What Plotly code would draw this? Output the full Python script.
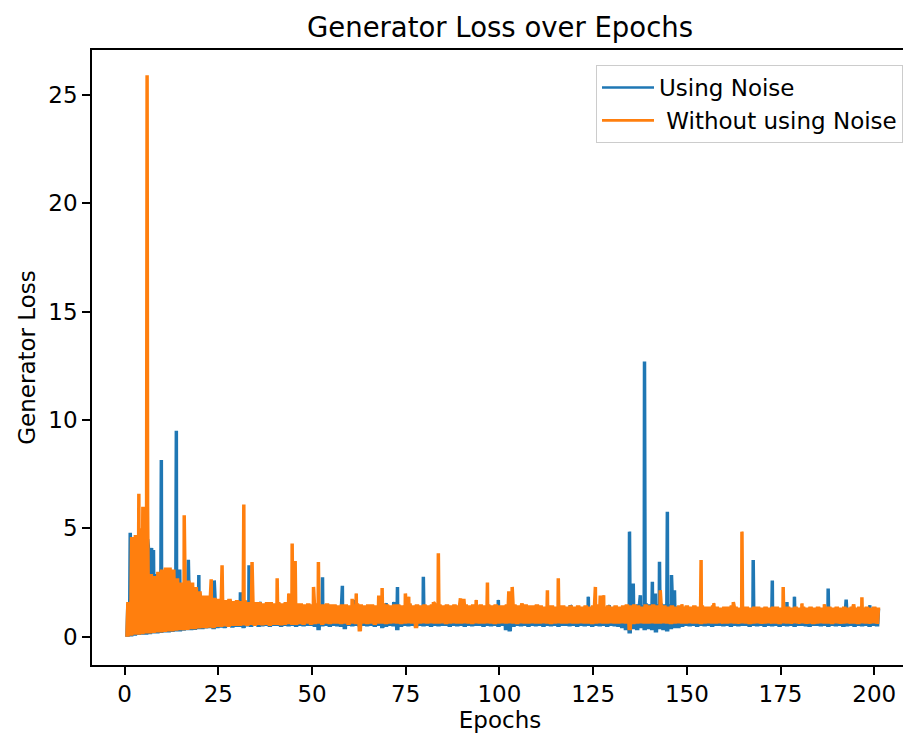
import plotly.graph_objects as go

# ---------------- data ----------------
# per-epoch sample positions (one slot per epoch)
epochs = [i + 0.5 for i in range(201)]

# "Without using Noise" (orange): upper / lower edge of the dense band per epoch
without_high = [
    1.6, 4.6, 4.7, 5.0, 6.0, 6.0, 2.9, 2.8, 3.0, 3.1,
    3.2, 3.2, 3.1, 2.7, 2.5, 2.4, 2.6, 2.5, 2.3, 2.1,
    1.9, 1.9, 1.8, 1.8, 1.75, 1.8, 1.7, 1.75, 1.65, 1.7,
    1.65, 1.7, 1.6, 1.65, 1.6, 1.6, 1.55, 1.6, 1.6, 1.55,
    1.6, 1.55, 1.6, 1.55, 1.6, 1.55, 1.55, 1.5, 1.55, 1.5,
    1.55, 1.5, 1.5, 1.55, 1.5, 1.5, 1.45, 1.5, 1.5, 1.45,
    1.5, 1.55, 1.5, 1.45, 1.5, 1.5, 1.45, 1.5, 1.55, 1.5,
    1.45, 1.5, 1.5, 1.45, 1.5, 1.55, 1.45, 1.5, 1.45, 1.5,
    1.45, 1.5, 1.55, 1.5, 1.45, 1.5, 1.45, 1.5, 1.45, 1.55,
    1.5, 1.45, 1.5, 1.45, 1.5, 1.45, 1.5, 1.45, 1.5, 1.45,
    1.45, 1.5, 1.45, 1.5, 1.45, 1.45, 1.5, 1.45, 1.45, 1.5,
    1.45, 1.4, 1.45, 1.45, 1.4, 1.45, 1.45, 1.4, 1.45, 1.4,
    1.45, 1.4, 1.45, 1.4, 1.45, 1.5, 1.45, 1.4, 1.45, 1.4,
    1.45, 1.4, 1.45, 1.5, 1.45, 1.5, 1.45, 1.4, 1.5, 1.45,
    1.5, 1.45, 1.5, 1.45, 1.4, 1.45, 1.4, 1.45, 1.4, 1.45,
    1.4, 1.45, 1.4, 1.45, 1.4, 1.4, 1.45, 1.4, 1.35, 1.4,
    1.4, 1.45, 1.4, 1.35, 1.4, 1.4, 1.35, 1.4, 1.4, 1.35,
    1.4, 1.35, 1.4, 1.4, 1.35, 1.4, 1.4, 1.35, 1.4, 1.35,
    1.4, 1.35, 1.4, 1.35, 1.4, 1.35, 1.4, 1.4, 1.35, 1.4,
    1.35, 1.4, 1.35, 1.4, 1.35, 1.4, 1.35, 1.4, 1.35, 1.4,
    1.35,
]
without_low = [
    0.0, 0.05, 0.1, 0.1, 0.12, 0.15, 0.15, 0.18, 0.2, 0.2,
    0.22, 0.25, 0.25, 0.28, 0.3, 0.3, 0.32, 0.35, 0.35, 0.38,
    0.4, 0.4, 0.42, 0.4, 0.45, 0.45, 0.48, 0.45, 0.5, 0.5,
    0.5, 0.52, 0.5, 0.55, 0.5, 0.55, 0.52, 0.55, 0.5, 0.55,
    0.55, 0.52, 0.55, 0.58, 0.55, 0.55, 0.58, 0.55, 0.6, 0.55,
    0.58, 0.6, 0.55, 0.6, 0.58, 0.6, 0.6, 0.58, 0.6, 0.55,
    0.6, 0.58, 0.25, 0.6, 0.58, 0.6, 0.55, 0.6, 0.6, 0.58,
    0.6, 0.62, 0.6, 0.58, 0.6, 0.62, 0.6, 0.4, 0.6, 0.62,
    0.6, 0.62, 0.6, 0.6, 0.62, 0.58, 0.6, 0.62, 0.6, 0.6,
    0.62, 0.6, 0.58, 0.62, 0.6, 0.6, 0.62, 0.6, 0.58, 0.6,
    0.62, 0.6, 0.62, 0.6, 0.58, 0.62, 0.6, 0.6, 0.62, 0.6,
    0.6, 0.62, 0.6, 0.58, 0.6, 0.62, 0.6, 0.6, 0.62, 0.6,
    0.6, 0.62, 0.6, 0.6, 0.58, 0.6, 0.62, 0.6, 0.6, 0.62,
    0.6, 0.6, 0.62, 0.6, 0.3, 0.58, 0.6, 0.62, 0.6, 0.6,
    0.62, 0.6, 0.6, 0.62, 0.6, 0.58, 0.6, 0.62, 0.6, 0.6,
    0.62, 0.6, 0.6, 0.58, 0.6, 0.62, 0.6, 0.6, 0.62, 0.6,
    0.6, 0.62, 0.6, 0.6, 0.62, 0.6, 0.58, 0.6, 0.62, 0.6,
    0.6, 0.62, 0.6, 0.6, 0.58, 0.62, 0.6, 0.6, 0.62, 0.6,
    0.62, 0.6, 0.6, 0.58, 0.6, 0.62, 0.6, 0.6, 0.58, 0.62,
    0.6, 0.6, 0.62, 0.6, 0.6, 0.58, 0.62, 0.6, 0.6, 0.62,
    0.6,
]
# isolated spikes of the orange series
without_spike_epoch = [3.8, 6.0, 15.9, 23.1, 26.0, 31.8, 34.0, 40.7, 43.8, 44.7,
                       45.5, 50.4, 51.7, 60.7, 61.8, 67.8, 68.7, 74.9, 75.8, 82.4,
                       83.7, 89.6, 90.5, 93.8, 96.8, 102.5, 103.4, 106.0, 112.8, 115.7,
                       125.6, 126.9, 127.8, 142.9, 148.7, 153.8, 157.2, 162.4, 164.7, 175.7,
                       180.7, 186.7, 194.5, 196.7]
without_spike_value = [6.6, 25.9, 5.6, 2.65, 3.3, 6.1, 3.45, 2.7, 2.0, 4.3,
                       3.5, 2.3, 3.45, 1.75, 2.0, 1.9, 2.25, 2.0, 1.85, 1.6,
                       3.85, 1.78, 1.75, 1.7, 2.5, 2.1, 2.3, 1.55, 2.15, 2.7,
                       2.3, 1.9, 1.92, 2.15, 1.5, 3.54, 1.55, 1.6, 4.85, 2.3,
                       1.54, 1.5, 1.5, 1.82]

# "Using Noise" (blue)
noise_high = [
    1.5, 4.0, 4.3, 4.5, 4.8, 4.5, 3.0, 2.9, 2.9, 3.0,
    3.0, 2.9, 2.8, 2.6, 2.4, 2.3, 2.4, 2.3, 2.2, 2.0,
    1.85, 1.8, 1.75, 1.75, 1.7, 1.7, 1.65, 1.7, 1.6, 1.65,
    1.6, 1.65, 1.6, 1.6, 1.55, 1.6, 1.5, 1.55, 1.55, 1.5,
    1.55, 1.5, 1.55, 1.5, 1.55, 1.5, 1.5, 1.45, 1.5, 1.45,
    1.5, 1.45, 1.45, 1.5, 1.45, 1.45, 1.4, 1.45, 1.45, 1.4,
    1.45, 1.5, 1.45, 1.4, 1.45, 1.45, 1.4, 1.45, 1.5, 1.45,
    1.4, 1.45, 1.45, 1.4, 1.45, 1.5, 1.4, 1.45, 1.4, 1.45,
    1.4, 1.45, 1.5, 1.45, 1.4, 1.45, 1.4, 1.45, 1.4, 1.5,
    1.45, 1.4, 1.45, 1.4, 1.45, 1.4, 1.45, 1.4, 1.45, 1.4,
    1.4, 1.45, 1.4, 1.45, 1.4, 1.4, 1.45, 1.4, 1.4, 1.45,
    1.4, 1.35, 1.4, 1.4, 1.35, 1.4, 1.4, 1.35, 1.4, 1.35,
    1.4, 1.35, 1.4, 1.35, 1.4, 1.45, 1.4, 1.35, 1.4, 1.35,
    1.4, 1.35, 1.4, 1.45, 1.4, 1.45, 1.5, 1.45, 1.55, 1.5,
    1.55, 1.5, 1.55, 1.5, 1.5, 1.45, 1.4, 1.4, 1.35, 1.4,
    1.35, 1.4, 1.35, 1.4, 1.35, 1.35, 1.4, 1.35, 1.3, 1.35,
    1.35, 1.4, 1.35, 1.3, 1.35, 1.35, 1.3, 1.35, 1.35, 1.3,
    1.35, 1.3, 1.35, 1.35, 1.3, 1.35, 1.35, 1.3, 1.35, 1.3,
    1.35, 1.3, 1.35, 1.3, 1.35, 1.3, 1.35, 1.35, 1.3, 1.35,
    1.3, 1.35, 1.3, 1.35, 1.3, 1.35, 1.3, 1.35, 1.3, 1.35,
    1.3,
]
noise_low = [
    0.0, 0.02, 0.05, 0.08, 0.1, 0.1, 0.12, 0.15, 0.15, 0.18,
    0.2, 0.2, 0.22, 0.25, 0.25, 0.28, 0.3, 0.3, 0.32, 0.35,
    0.35, 0.38, 0.4, 0.35, 0.4, 0.42, 0.4, 0.45, 0.42, 0.45,
    0.45, 0.4, 0.48, 0.45, 0.5, 0.45, 0.48, 0.5, 0.45, 0.5,
    0.5, 0.45, 0.5, 0.48, 0.5, 0.45, 0.5, 0.48, 0.5, 0.5,
    0.45, 0.3, 0.48, 0.5, 0.45, 0.5, 0.48, 0.45, 0.35, 0.5,
    0.48, 0.5, 0.45, 0.5, 0.48, 0.5, 0.45, 0.5, 0.4, 0.45,
    0.5, 0.48, 0.3, 0.45, 0.5, 0.48, 0.5, 0.45, 0.5, 0.48,
    0.5, 0.45, 0.5, 0.48, 0.5, 0.5, 0.45, 0.5, 0.48, 0.5,
    0.45, 0.5, 0.48, 0.5, 0.5, 0.45, 0.5, 0.48, 0.5, 0.45,
    0.5, 0.3, 0.25, 0.45, 0.5, 0.48, 0.5, 0.45, 0.5, 0.48,
    0.5, 0.45, 0.5, 0.48, 0.5, 0.45, 0.5, 0.5, 0.48, 0.5,
    0.45, 0.5, 0.48, 0.5, 0.45, 0.5, 0.48, 0.5, 0.45, 0.5,
    0.48, 0.45, 0.4, 0.3, 0.15, 0.35, 0.3, 0.4, 0.3, 0.35,
    0.3, 0.2, 0.35, 0.3, 0.25, 0.35, 0.4, 0.4, 0.45, 0.5,
    0.48, 0.5, 0.45, 0.5, 0.48, 0.5, 0.45, 0.5, 0.5, 0.48,
    0.5, 0.45, 0.5, 0.48, 0.5, 0.5, 0.45, 0.5, 0.48, 0.5,
    0.45, 0.5, 0.48, 0.5, 0.45, 0.5, 0.48, 0.5, 0.45, 0.5,
    0.5, 0.48, 0.45, 0.5, 0.5, 0.48, 0.5, 0.45, 0.5, 0.48,
    0.5, 0.45, 0.48, 0.5, 0.45, 0.5, 0.48, 0.5, 0.45, 0.5,
    0.48,
]
noise_spike_epoch = [1.5, 6.6, 7.2, 7.7, 9.8, 13.8, 14.7, 17.0, 19.8, 23.9,
                     27.7, 30.9, 33.2, 36.2, 52.8, 58.1, 61.0, 69.8, 71.8, 72.8,
                     79.7, 99.7, 118.9, 123.7, 129.3, 134.7, 135.7, 137.6, 138.7, 140.8,
                     141.6, 142.7, 144.8, 145.9, 146.7, 167.7, 172.8, 176.7, 178.7, 187.7,
                     192.5, 198.8]
noise_spike_value = [4.8, 4.1, 4.1, 4.0, 8.15, 9.5, 3.1, 3.55, 2.85, 2.6,
                     1.6, 2.05, 3.3, 1.55, 2.75, 2.35, 1.7, 1.55, 1.6, 2.3,
                     2.77, 1.7, 1.46, 1.85, 1.46, 4.85, 2.46, 1.92, 12.7, 2.54,
                     2.0, 3.46, 5.77, 2.85, 2.15, 3.54, 2.6, 1.6, 1.85, 2.23,
                     1.72, 1.45]

x_tick_values = [0, 25, 50, 75, 100, 125, 150, 175, 200]
y_tick_values = [0, 5, 10, 15, 20, 25]

COLOR_NOISE = "#1f77b4"
COLOR_WITHOUT = "#ff7f0e"


def dense_series(low, high, spike_x, spike_y):
    """Batch-level loss trace: alternates between the read band edges within
    every epoch and passes through the read spikes."""
    pts = []
    for e, lo, hi in zip(epochs, low, high):
        pts += [(e, lo), (e + 0.25, hi), (e + 0.5, lo), (e + 0.75, hi)]
    for sx, sy in zip(spike_x, spike_y):
        pts += [(sx - 0.12, sy), (sx + 0.12, sy)]
    pts.sort(key=lambda p: p[0])
    xs = [p[0] for p in pts]
    ys = [p[1] for p in pts]
    return xs, ys


nx, ny = dense_series(noise_low, noise_high, noise_spike_epoch, noise_spike_value)
wx, wy = dense_series(without_low, without_high, without_spike_epoch, without_spike_value)

FONT = "DejaVu Sans"
TXT = 23

# The page body adds an 8 px offset, so the figure is 8 px smaller in each
# direction and all margins are expressed in figure coordinates.
FIG_W, FIG_H = 903, 730

fig = go.Figure()
fig.add_trace(go.Scatter(x=nx, y=ny, mode="lines", name="Using Noise",
                         line=dict(color=COLOR_NOISE, width=2.6), legendgroup="a"))
fig.add_trace(go.Scatter(x=wx, y=wy, mode="lines", name=" Without using Noise",
                         line=dict(color=COLOR_WITHOUT, width=2.6), legendgroup="b"))

axis_common = dict(
    showline=True, mirror=True, linecolor="#000000", linewidth=1.6,
    ticks="outside", ticklen=8, tickwidth=1.6, tickcolor="#000000",
    showgrid=False, zeroline=False, automargin=False,
    tickfont=dict(family=FONT, size=TXT, color="#000000"),
)

fig.update_layout(
    width=FIG_W, height=FIG_H,
    margin=dict(l=84, r=3, t=42, b=73),
    plot_bgcolor="white", paper_bgcolor="white",
    title=dict(text="Generator Loss over Epochs", x=0.5, xref="paper", xanchor="center",
               y=1 - 19 / FIG_H, yref="container", yanchor="middle",
               font=dict(family=FONT, size=27.5, color="#000000")),
    xaxis=dict(range=[-8.7, 209.0], tickvals=x_tick_values,
               title=dict(text="Epochs", standoff=4, font=dict(family=FONT, size=TXT, color="#000000")),
               **axis_common),
    yaxis=dict(range=[-1.3, 27.06], tickvals=y_tick_values,
               title=dict(text="Generator Loss", standoff=6, font=dict(family=FONT, size=TXT, color="#000000")),
               **axis_common),
    legend=dict(x=1 - 5 / 816, xanchor="right", y=1 - 15 / 615, yanchor="top",
                bgcolor="rgba(255,255,255,0.8)", bordercolor="#cccccc", borderwidth=1,
                font=dict(family=FONT, size=TXT, color="#000000"),
                tracegroupgap=0, itemwidth=52),
    showlegend=True,
)

fig.write_html("out.html")
